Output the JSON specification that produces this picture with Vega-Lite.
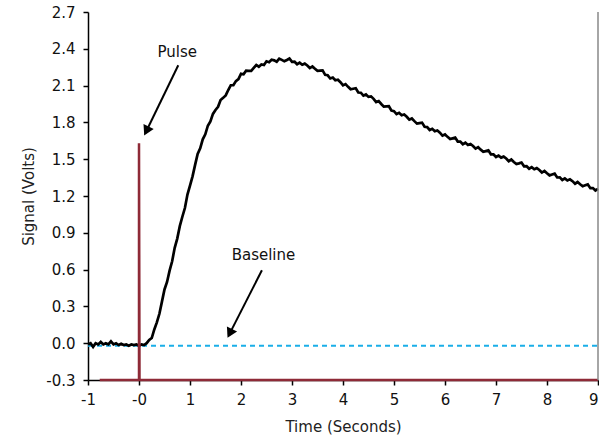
{
  "$schema": "https://vega.github.io/schema/vega-lite/v6.json",
  "width": 510,
  "height": 368,
  "autosize": "none",
  "padding": {"left": 88, "top": 12, "right": 1, "bottom": 59},
  "background": "white",
  "config": {
    "view": {"stroke": null},
    "axis": {
      "grid": false,
      "domainColor": "#000000",
      "domainWidth": 1.5,
      "tickColor": "#000000",
      "tickWidth": 1.5,
      "tickSize": 5,
      "labelFont": "DejaVu Sans",
      "labelFontSize": 15,
      "labelColor": "#111111",
      "labelOverlap": false,
      "labelFlush": false,
      "titleFont": "DejaVu Sans",
      "titleFontSize": 15,
      "titleFontWeight": "normal",
      "titleColor": "#222222"
    }
  },
  "datasets": {
    "signal": [
      {"t": -1.00, "v": -0.01}, {"t": -0.95, "v": 0.00}, {"t": -0.90, "v": -0.03}, {"t": -0.85, "v": 0.00},
      {"t": -0.80, "v": -0.01}, {"t": -0.75, "v": 0.01}, {"t": -0.70, "v": -0.01}, {"t": -0.65, "v": 0.00},
      {"t": -0.60, "v": -0.01}, {"t": -0.55, "v": 0.015}, {"t": -0.50, "v": -0.01}, {"t": -0.45, "v": 0.00},
      {"t": -0.40, "v": -0.015}, {"t": -0.35, "v": -0.005}, {"t": -0.30, "v": -0.015}, {"t": -0.25, "v": -0.01},
      {"t": -0.20, "v": -0.02}, {"t": -0.15, "v": -0.01}, {"t": -0.10, "v": -0.015}, {"t": -0.05, "v": -0.01},
      {"t": 0.00, "v": -0.02}, {"t": 0.05, "v": -0.01}, {"t": 0.10, "v": -0.015}, {"t": 0.15, "v": 0.00},
      {"t": 0.20, "v": 0.026}, {"t": 0.25, "v": 0.042}, {"t": 0.30, "v": 0.112}, {"t": 0.35, "v": 0.17},
      {"t": 0.40, "v": 0.24}, {"t": 0.45, "v": 0.339}, {"t": 0.50, "v": 0.438}, {"t": 0.55, "v": 0.499},
      {"t": 0.60, "v": 0.592}, {"t": 0.65, "v": 0.668}, {"t": 0.70, "v": 0.778}, {"t": 0.75, "v": 0.853},
      {"t": 0.80, "v": 0.954}, {"t": 0.85, "v": 1.031}, {"t": 0.90, "v": 1.102}, {"t": 0.95, "v": 1.212},
      {"t": 1.00, "v": 1.285}, {"t": 1.05, "v": 1.36}, {"t": 1.10, "v": 1.454}, {"t": 1.15, "v": 1.543},
      {"t": 1.20, "v": 1.589}, {"t": 1.25, "v": 1.662}, {"t": 1.30, "v": 1.703}, {"t": 1.35, "v": 1.773},
      {"t": 1.40, "v": 1.808}, {"t": 1.45, "v": 1.869}, {"t": 1.50, "v": 1.901}, {"t": 1.55, "v": 1.927},
      {"t": 1.60, "v": 1.982}, {"t": 1.65, "v": 2.0}, {"t": 1.70, "v": 2.02}, {"t": 1.75, "v": 2.064},
      {"t": 1.80, "v": 2.103}, {"t": 1.85, "v": 2.104}, {"t": 1.90, "v": 2.137}, {"t": 1.95, "v": 2.153},
      {"t": 2.00, "v": 2.196}, {"t": 2.05, "v": 2.192}, {"t": 2.10, "v": 2.222}, {"t": 2.15, "v": 2.22},
      {"t": 2.20, "v": 2.22}, {"t": 2.25, "v": 2.244}, {"t": 2.30, "v": 2.268}, {"t": 2.35, "v": 2.254},
      {"t": 2.40, "v": 2.272}, {"t": 2.45, "v": 2.268}, {"t": 2.50, "v": 2.298}, {"t": 2.55, "v": 2.291},
      {"t": 2.60, "v": 2.311}, {"t": 2.65, "v": 2.306}, {"t": 2.70, "v": 2.295}, {"t": 2.75, "v": 2.319},
      {"t": 2.80, "v": 2.31}, {"t": 2.85, "v": 2.298}, {"t": 2.90, "v": 2.309}, {"t": 2.95, "v": 2.321},
      {"t": 3.00, "v": 2.294}, {"t": 3.05, "v": 2.295}, {"t": 3.10, "v": 2.274}, {"t": 3.15, "v": 2.287},
      {"t": 3.20, "v": 2.27}, {"t": 3.25, "v": 2.279}, {"t": 3.30, "v": 2.264}, {"t": 3.35, "v": 2.243},
      {"t": 3.40, "v": 2.256}, {"t": 3.45, "v": 2.237}, {"t": 3.50, "v": 2.22}, {"t": 3.55, "v": 2.222},
      {"t": 3.60, "v": 2.224}, {"t": 3.65, "v": 2.188}, {"t": 3.70, "v": 2.184}, {"t": 3.75, "v": 2.158},
      {"t": 3.80, "v": 2.166}, {"t": 3.85, "v": 2.144}, {"t": 3.90, "v": 2.148}, {"t": 3.95, "v": 2.128},
      {"t": 4.00, "v": 2.102}, {"t": 4.05, "v": 2.112}, {"t": 4.10, "v": 2.09}, {"t": 4.15, "v": 2.07},
      {"t": 4.20, "v": 2.074}, {"t": 4.25, "v": 2.078}, {"t": 4.30, "v": 2.044}, {"t": 4.35, "v": 2.042},
      {"t": 4.40, "v": 2.018}, {"t": 4.45, "v": 2.028}, {"t": 4.50, "v": 2.008}, {"t": 4.55, "v": 2.012},
      {"t": 4.60, "v": 1.992}, {"t": 4.65, "v": 1.966}, {"t": 4.70, "v": 1.974}, {"t": 4.75, "v": 1.95},
      {"t": 4.80, "v": 1.928}, {"t": 4.85, "v": 1.93}, {"t": 4.90, "v": 1.932}, {"t": 4.95, "v": 1.896},
      {"t": 5.00, "v": 1.892}, {"t": 5.05, "v": 1.868}, {"t": 5.10, "v": 1.878}, {"t": 5.15, "v": 1.858},
      {"t": 5.20, "v": 1.864}, {"t": 5.25, "v": 1.846}, {"t": 5.30, "v": 1.822}, {"t": 5.35, "v": 1.832},
      {"t": 5.40, "v": 1.81}, {"t": 5.45, "v": 1.79}, {"t": 5.50, "v": 1.794}, {"t": 5.55, "v": 1.798},
      {"t": 5.60, "v": 1.764}, {"t": 5.65, "v": 1.762}, {"t": 5.70, "v": 1.738}, {"t": 5.75, "v": 1.748},
      {"t": 5.80, "v": 1.728}, {"t": 5.85, "v": 1.734}, {"t": 5.90, "v": 1.716}, {"t": 5.95, "v": 1.692},
      {"t": 6.00, "v": 1.702}, {"t": 6.05, "v": 1.682}, {"t": 6.10, "v": 1.664}, {"t": 6.15, "v": 1.67},
      {"t": 6.20, "v": 1.676}, {"t": 6.25, "v": 1.644}, {"t": 6.30, "v": 1.644}, {"t": 6.35, "v": 1.622},
      {"t": 6.40, "v": 1.634}, {"t": 6.45, "v": 1.616}, {"t": 6.50, "v": 1.624}, {"t": 6.55, "v": 1.608},
      {"t": 6.60, "v": 1.586}, {"t": 6.65, "v": 1.598}, {"t": 6.70, "v": 1.578}, {"t": 6.75, "v": 1.56},
      {"t": 6.80, "v": 1.566}, {"t": 6.85, "v": 1.572}, {"t": 6.90, "v": 1.54}, {"t": 6.95, "v": 1.54},
      {"t": 7.00, "v": 1.518}, {"t": 7.05, "v": 1.53}, {"t": 7.10, "v": 1.513}, {"t": 7.15, "v": 1.521},
      {"t": 7.20, "v": 1.506}, {"t": 7.25, "v": 1.484}, {"t": 7.30, "v": 1.497}, {"t": 7.35, "v": 1.477},
      {"t": 7.40, "v": 1.46}, {"t": 7.45, "v": 1.466}, {"t": 7.50, "v": 1.473}, {"t": 7.55, "v": 1.442},
      {"t": 7.60, "v": 1.443}, {"t": 7.65, "v": 1.422}, {"t": 7.70, "v": 1.435}, {"t": 7.75, "v": 1.418},
      {"t": 7.80, "v": 1.427}, {"t": 7.85, "v": 1.412}, {"t": 7.90, "v": 1.391}, {"t": 7.95, "v": 1.404},
      {"t": 8.00, "v": 1.385}, {"t": 8.05, "v": 1.368}, {"t": 8.10, "v": 1.375}, {"t": 8.15, "v": 1.382},
      {"t": 8.20, "v": 1.351}, {"t": 8.25, "v": 1.352}, {"t": 8.30, "v": 1.331}, {"t": 8.35, "v": 1.344},
      {"t": 8.40, "v": 1.327}, {"t": 8.45, "v": 1.336}, {"t": 8.50, "v": 1.321}, {"t": 8.55, "v": 1.30},
      {"t": 8.60, "v": 1.314}, {"t": 8.65, "v": 1.296}, {"t": 8.70, "v": 1.279}, {"t": 8.75, "v": 1.287},
      {"t": 8.80, "v": 1.294}, {"t": 8.85, "v": 1.264}, {"t": 8.90, "v": 1.265}, {"t": 8.95, "v": 1.245},
      {"t": 9.00, "v": 1.258}
    ],
    "pulse": [
      {"i": 1, "t": -0.77, "v": -0.3},
      {"i": 2, "t": 0.0, "v": -0.3},
      {"i": 3, "t": 0.0, "v": 1.63},
      {"i": 4, "t": 0.01, "v": -0.3},
      {"i": 5, "t": 9.0, "v": -0.3}
    ],
    "baseline": [
      {"t": -1.0, "v": -0.02},
      {"t": 9.0, "v": -0.02}
    ],
    "border": [
      {"t": 9.0, "v": -0.3, "v2": 2.7}
    ],
    "labels": [
      {"t": 0.75, "v": 2.375, "label": "Pulse"},
      {"t": 2.44, "v": 0.717, "label": "Baseline"}
    ],
    "arrows": [
      {"t": 0.77, "v": 2.266, "t2": 0.145, "v2": 1.73, "angle": 206.6},
      {"t": 2.41, "v": 0.595, "t2": 1.78, "v2": 0.08, "angle": 206.6}
    ]
  },
  "layer": [
    {
      "data": {"name": "baseline"},
      "mark": {"type": "line", "color": "#1AAEE8", "strokeWidth": 2, "strokeDash": [5, 4]},
      "encoding": {
        "x": {
          "field": "t", "type": "quantitative",
          "scale": {"domain": [-1, 9], "nice": false, "zero": false},
          "axis": {
            "title": "Time (Seconds)",
            "values": [-1, 0, 1, 2, 3, 4, 5, 6, 7, 8, 9],
            "tickCount": 11,
            "labelExpr": "datum.value == 0 ? '-0' : replace(datum.label, '\u2212', '-')",
            "labelAlign": {"condition": {"test": "datum.value == 9", "value": "right"}, "value": "center"},
            "labelPadding": 7,
            "titlePadding": 12
          }
        },
        "y": {
          "field": "v", "type": "quantitative",
          "scale": {"domain": [-0.3, 2.7], "nice": false, "zero": false},
          "axis": {
            "title": "Signal (Volts)",
            "values": [-0.3, 0, 0.3, 0.6, 0.9, 1.2, 1.5, 1.8, 2.1, 2.4, 2.7],
            "tickCount": 11,
            "format": ".1f",
            "labelExpr": "replace(datum.label, '\u2212', '-')",
            "labelPadding": 8,
            "titlePadding": 9
          }
        }
      }
    },
    {
      "data": {"name": "signal"},
      "mark": {"type": "line", "color": "#000000", "strokeWidth": 2.7},
      "encoding": {
        "x": {"field": "t", "type": "quantitative"},
        "y": {"field": "v", "type": "quantitative"}
      }
    },
    {
      "data": {"name": "pulse"},
      "mark": {"type": "line", "color": "#8E2A37", "strokeWidth": 2.5},
      "encoding": {
        "x": {"field": "t", "type": "quantitative"},
        "y": {"field": "v", "type": "quantitative"},
        "order": {"field": "i"}
      }
    },
    {
      "data": {"name": "border"},
      "mark": {"type": "rule", "color": "#888888", "strokeWidth": 1.5},
      "encoding": {
        "x": {"field": "t", "type": "quantitative"},
        "y": {"field": "v", "type": "quantitative"},
        "y2": {"field": "v2"}
      }
    },
    {
      "data": {"name": "arrows"},
      "mark": {"type": "rule", "color": "#000000", "strokeWidth": 2},
      "encoding": {
        "x": {"field": "t", "type": "quantitative"},
        "y": {"field": "v", "type": "quantitative"},
        "x2": {"field": "t2"},
        "y2": {"field": "v2"}
      }
    },
    {
      "data": {"name": "arrows"},
      "mark": {"type": "point", "shape": "triangle-up", "filled": true, "color": "#000000", "size": 130, "opacity": 1},
      "encoding": {
        "x": {"field": "t2", "type": "quantitative"},
        "y": {"field": "v2", "type": "quantitative"},
        "angle": {"field": "angle", "type": "quantitative", "scale": null}
      }
    },
    {
      "data": {"name": "labels"},
      "mark": {"type": "text", "font": "DejaVu Sans", "fontSize": 15, "color": "#111111", "align": "center", "baseline": "middle"},
      "encoding": {
        "x": {"field": "t", "type": "quantitative"},
        "y": {"field": "v", "type": "quantitative"},
        "text": {"field": "label"}
      }
    }
  ]
}
